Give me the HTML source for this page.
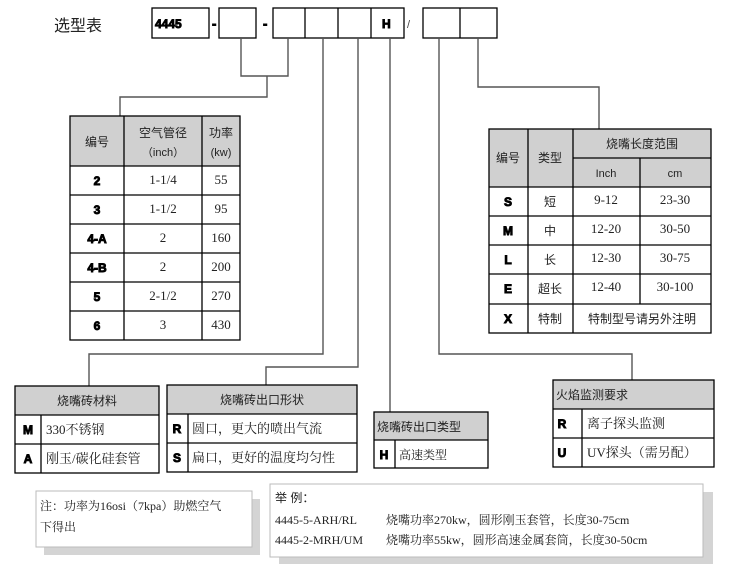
<!DOCTYPE html>
<html><head><meta charset="utf-8"><style>
html,body{margin:0;padding:0;background:#fff;}
svg{display:block;}
.s{font-family:"Liberation Sans","Noto Sans CJK SC",sans-serif;}
.r{font-family:"Liberation Serif","Noto Serif CJK SC",serif;}
.b{font-family:"Liberation Sans",sans-serif;font-weight:900;stroke:#000;stroke-width:0.9;}
</style></head><body>
<svg width="730" height="564" viewBox="0 0 730 564" xmlns="http://www.w3.org/2000/svg">
<text x="54" y="31" class="s" font-size="16" fill="#222">选型表</text>
<g fill="none" stroke="#000" stroke-width="1.3">
<rect x="152" y="8" width="57" height="30"/>
<rect x="219" y="8" width="37" height="30"/>
<rect x="273" y="8" width="131" height="30"/>
<line x1="305" y1="8" x2="305" y2="38"/><line x1="338" y1="8" x2="338" y2="38"/><line x1="371" y1="8" x2="371" y2="38"/>
<rect x="423" y="8" width="74" height="30"/>
<line x1="460" y1="8" x2="460" y2="38"/>
</g>
<text x="155" y="28" class="b" font-size="12">4445</text>
<text x="212" y="28" class="b" font-size="13">-</text>
<text x="263" y="28" class="b" font-size="13">-</text>
<text x="382" y="28" class="b" font-size="12">H</text>
<text x="407" y="28" class="s" font-size="11" fill="#444">/</text>
<g fill="none" stroke="#555" stroke-width="1.4">
<polyline points="241,38 241,76 288,76 288,38"/>
<polyline points="267,76 267,97 120,97 120,116"/>
<polyline points="323,38 323,354 89,354 89,386"/>
<polyline points="358,38 358,367 266,367 266,385"/>
<polyline points="390,38 390,412"/>
<polyline points="439,38 439,354 632,354 632,380"/>
<polyline points="478,38 478,87 599,87 599,129"/>
</g>
<rect x="70" y="116" width="170" height="50" fill="#d0d0d0"/>
<g fill="none" stroke="#000" stroke-width="1.3">
<rect x="70" y="116" width="170" height="224"/>
<line x1="124" y1="116" x2="124" y2="340"/><line x1="202" y1="116" x2="202" y2="340"/>
<line x1="70" y1="166" x2="240" y2="166"/><line x1="70" y1="195" x2="240" y2="195"/><line x1="70" y1="224" x2="240" y2="224"/><line x1="70" y1="253" x2="240" y2="253"/><line x1="70" y1="282" x2="240" y2="282"/><line x1="70" y1="311" x2="240" y2="311"/>
</g>
<g class="s" font-size="12" fill="#222" text-anchor="middle">
<text x="97" y="146">编号</text>
<text x="163" y="137">空气管径</text>
<text x="163" y="156" font-size="11">（inch）</text>
<text x="221" y="137">功率</text>
<text x="221" y="156" font-size="11">(kw)</text>
</g>
<g class="b" font-size="12" text-anchor="middle">
<text x="97" y="185">2</text><text x="97" y="214">3</text><text x="97" y="243">4-A</text><text x="97" y="272">4-B</text><text x="97" y="301">5</text><text x="97" y="330">6</text>
</g>
<g class="r" font-size="13" fill="#222" text-anchor="middle">
<text x="163" y="184">1-1/4</text><text x="163" y="213">1-1/2</text><text x="163" y="242">2</text><text x="163" y="271">2</text><text x="163" y="300">2-1/2</text><text x="163" y="329">3</text>
<text x="221" y="184">55</text><text x="221" y="213">95</text><text x="221" y="242">160</text><text x="221" y="271">200</text><text x="221" y="300">270</text><text x="221" y="329">430</text>
</g>
<rect x="489" y="129" width="222" height="58" fill="#d0d0d0"/>
<g fill="none" stroke="#000" stroke-width="1.3">
<rect x="489" y="129" width="222" height="204"/>
<line x1="528" y1="129" x2="528" y2="333"/><line x1="573" y1="129" x2="573" y2="333"/>
<line x1="640" y1="158" x2="640" y2="304"/>
<line x1="573" y1="158" x2="711" y2="158"/>
<line x1="489" y1="187" x2="711" y2="187"/><line x1="489" y1="216" x2="711" y2="216"/><line x1="489" y1="245" x2="711" y2="245"/><line x1="489" y1="274" x2="711" y2="274"/><line x1="489" y1="304" x2="711" y2="304"/>
</g>
<g class="s" font-size="12" fill="#222" text-anchor="middle">
<text x="508" y="162">编号</text><text x="550" y="162">类型</text>
<text x="642" y="148">烧嘴长度范围</text>
<text x="606" y="177" font-size="11">Inch</text><text x="675" y="177" font-size="11">cm</text>
<text x="550" y="206">短</text><text x="550" y="235">中</text><text x="550" y="264">长</text><text x="550" y="293">超长</text><text x="550" y="323">特制</text>
<text x="642" y="323">特制型号请另外注明</text>
</g>
<g class="b" font-size="12" text-anchor="middle">
<text x="508" y="206">S</text><text x="508" y="235">M</text><text x="508" y="264">L</text><text x="508" y="293">E</text><text x="508" y="323">X</text>
</g>
<g class="r" font-size="13" fill="#222" text-anchor="middle">
<text x="606" y="204">9-12</text><text x="675" y="204">23-30</text>
<text x="606" y="233">12-20</text><text x="675" y="233">30-50</text>
<text x="606" y="262">12-30</text><text x="675" y="262">30-75</text>
<text x="606" y="291">12-40</text><text x="675" y="291">30-100</text>
</g>
<rect x="15" y="386" width="144" height="29" fill="#d0d0d0"/>
<g fill="none" stroke="#000" stroke-width="1.3">
<rect x="15" y="386" width="144" height="87"/>
<line x1="15" y1="415" x2="159" y2="415"/><line x1="15" y1="444" x2="159" y2="444"/><line x1="41" y1="415" x2="41" y2="473"/>
</g>
<text x="87" y="405" class="s" font-size="12" fill="#222" text-anchor="middle">烧嘴砖材料</text>
<text x="28" y="434" class="b" font-size="12" text-anchor="middle">M</text>
<text x="28" y="463" class="b" font-size="12" text-anchor="middle">A</text>
<text x="46" y="434" class="r" font-size="13" fill="#222">330不锈钢</text>
<text x="46" y="463" class="r" font-size="13" fill="#222">刚玉/碳化硅套管</text>
<rect x="167" y="385" width="190" height="29" fill="#d0d0d0"/>
<g fill="none" stroke="#000" stroke-width="1.3">
<rect x="167" y="385" width="190" height="87"/>
<line x1="167" y1="414" x2="357" y2="414"/><line x1="167" y1="443" x2="357" y2="443"/><line x1="188" y1="414" x2="188" y2="472"/>
</g>
<text x="262" y="404" class="s" font-size="12" fill="#222" text-anchor="middle">烧嘴砖出口形状</text>
<text x="177" y="433" class="b" font-size="12" text-anchor="middle">R</text>
<text x="177" y="462" class="b" font-size="12" text-anchor="middle">S</text>
<text x="192" y="433" class="r" font-size="13" fill="#222">圆口，更大的喷出气流</text>
<text x="192" y="462" class="r" font-size="13" fill="#222">扁口，更好的温度均匀性</text>
<rect x="374" y="412" width="114" height="28" fill="#d0d0d0"/>
<g fill="none" stroke="#000" stroke-width="1.3">
<rect x="374" y="412" width="114" height="56"/>
<line x1="374" y1="440" x2="488" y2="440"/><line x1="395" y1="440" x2="395" y2="468"/>
</g>
<text x="377" y="431" class="s" font-size="12" fill="#222">烧嘴砖出口类型</text>
<text x="384" y="459" class="b" font-size="12" text-anchor="middle">H</text>
<text x="399" y="459" class="r" font-size="12" fill="#222">高速类型</text>
<rect x="553" y="380" width="161" height="29" fill="#d0d0d0"/>
<g fill="none" stroke="#000" stroke-width="1.3">
<rect x="553" y="380" width="161" height="87"/>
<line x1="553" y1="409" x2="714" y2="409"/><line x1="553" y1="438" x2="714" y2="438"/><line x1="582" y1="409" x2="582" y2="467"/>
</g>
<text x="556" y="399" class="s" font-size="12" fill="#222">火焰监测要求</text>
<text x="562" y="428" class="b" font-size="12" text-anchor="middle">R</text>
<text x="562" y="457" class="b" font-size="12" text-anchor="middle">U</text>
<text x="587" y="428" class="r" font-size="13" fill="#222">离子探头监测</text>
<text x="587" y="457" class="r" font-size="13" fill="#222">UV探头（需另配）</text>
<rect x="44" y="499" width="216" height="56" fill="#d4d4d4"/>
<rect x="36" y="491" width="216" height="56" fill="#fff" stroke="#bbb" stroke-width="1"/>
<text x="40" y="510" class="r" font-size="12" fill="#222">注：功率为16osi（7kpa）助燃空气</text>
<text x="40" y="531" class="r" font-size="12" fill="#222">下得出</text>
<rect x="279" y="492" width="434" height="72" fill="#d4d4d4"/>
<rect x="270" y="484" width="433" height="73" fill="#fff" stroke="#bbb" stroke-width="1"/>
<text x="275" y="502" class="s" font-size="12" fill="#222">举 例：</text>
<text x="275" y="524" class="r" font-size="12" fill="#222">4445-5-ARH/RL</text>
<text x="386" y="524" class="r" font-size="12" fill="#222">烧嘴功率270kw，圆形刚玉套管，长度30-75cm</text>
<text x="275" y="544" class="r" font-size="12" fill="#222">4445-2-MRH/UM</text>
<text x="386" y="544" class="r" font-size="12" fill="#222">烧嘴功率55kw，圆形高速金属套筒，长度30-50cm</text>
</svg>
</body></html>
